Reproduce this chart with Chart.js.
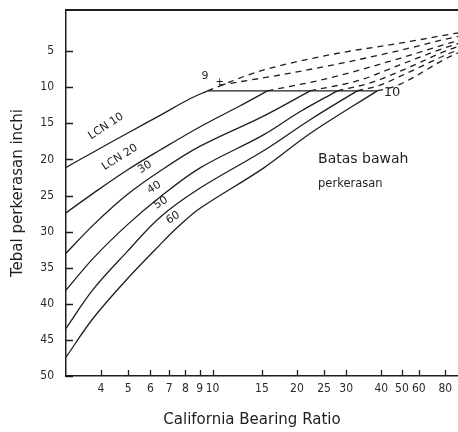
<!DOCTYPE html>
<html>
<head>
<meta charset="utf-8">
<script src="https://cdn.jsdelivr.net/npm/chart.js@4/dist/chart.umd.min.js"></script>
<style>
  html, body { margin: 0; padding: 0; background: #fff; overflow: hidden; }
  canvas { display: block; }
</style>
</head>
<body>
<canvas id="cbrChart" width="476" height="432"></canvas>
<script>
// ---- data ----
// thickness (inch) against CBR for each LCN curve, solid part
const cbrLcn10 = [3, 3.75, 4.95, 6.5, 8.3, 9.6];
const tLcn10   = [21.1, 19.0, 16.4, 13.9, 11.6, 10.5];
const cbrLcn20 = [3, 3.75, 4.95, 6.5, 9.0, 12.5, 15.7];
const tLcn20   = [27.4, 24.7, 21.5, 18.7, 15.5, 12.6, 10.5];
const cbrLcn30 = [3, 3.75, 4.95, 6.5, 9.0, 15.2, 22.3];
const tLcn30   = [33.0, 29.1, 24.9, 21.6, 18.2, 14.0, 10.5];
const cbrLcn40 = [3, 3.75, 4.95, 6.5, 9.0, 15.2, 20.5, 27.9];
const tLcn40   = [38.1, 33.7, 29.1, 25.2, 21.2, 16.6, 13.4, 10.5];
const cbrLcn50 = [3, 3.75, 4.95, 6.5, 9.0, 15.2, 22.3, 32.8];
const tLcn50   = [43.4, 38.0, 32.8, 28.0, 24.0, 18.8, 14.5, 10.5];
const cbrLcn60 = [3, 3.75, 4.95, 6.5, 7.6, 9.0, 15.2, 22.3, 38.7];
const tLcn60   = [47.4, 42.0, 36.6, 31.8, 29.2, 26.8, 21.2, 16.4, 10.5];

// dashed continuations above the lower limit line
const cbrDash1 = [9.6, 14.4, 26.3, 48.9, 90.6, 100];
const tDash1   = [10.5, 7.9, 5.5, 3.9, 2.5, 2.3];
const cbrDash2 = [10.6, 17.4, 28.6, 48.9, 90.6, 100];
const tDash2   = [9.7, 8.3, 6.7, 4.9, 3.0, 2.8];
const cbrDash3 = [15.7, 26.3, 48.9, 90.6, 100];
const tDash3   = [10.5, 8.7, 6.0, 3.6, 3.3];
const cbrDash4 = [22.3, 33.7, 48.9, 90.6, 100];
const tDash4   = [10.5, 9.0, 6.9, 4.0, 3.7];
const cbrDash5 = [27.9, 36.5, 48.9, 90.6, 100];
const tDash5   = [10.5, 9.4, 7.8, 4.4, 4.1];
const cbrDash6 = [32.8, 39.7, 48.9, 90.6, 100];
const tDash6   = [10.5, 9.7, 8.5, 4.9, 4.5];
const cbrDash7 = [38.7, 43.9, 48.9, 90.6, 100];
const tDash7   = [10.5, 10.1, 9.6, 5.3, 4.9];

// horizontal limit line
const cbrLimit = [9.6, 38.7];
const tLimit   = [10.5, 10.5];

// axis ticks
const xTicks = [4, 5, 6, 7, 8, 9, 10, 15, 20, 25, 30, 40, 50, 60, 80];
const yTicks = [5, 10, 15, 20, 25, 30, 35, 40, 45, 50];

// text on the plot: [cbr, thickness, text, angle(deg), size, align]
const notes = [
  [4.17, 15.4, 'LCN 10', -33, 11, 'center'],
  [4.67, 19.7, 'LCN 20', -32, 11, 'center'],
  [5.74, 21.1, '30', -32, 11, 'center'],
  [6.19, 23.9, '40', -32, 11, 'center'],
  [6.55, 26.0, '50', -32, 11, 'center'],
  [7.23, 28.1, '60', -32, 11, 'center'],
  [9.4, 8.45, '9', 0, 11, 'center'],
  [10.6, 9.3, '+', 0, 10, 'center'],
  [44.9, 10.8, '10', 0, 13, 'center'],
  [23.8, 20.0, 'Batas bawah', 0, 14, 'left'],
  [23.8, 23.4, 'perkerasan', 0, 11.5, 'left']
];

// CBR axis: logarithmic, but squeezed above 40 like the printed chart
const CBR_BREAK = 40;
const CBR_SQUEEZE = 0.76;

class CbrScale extends Chart.LogarithmicScale {
  warp(v) {
    const l = Math.log10(v), b = Math.log10(CBR_BREAK);
    return l <= b ? l : b + CBR_SQUEEZE * (l - b);
  }
  getPixelForValue(v) {
    if (v === undefined || v === null || isNaN(v)) return NaN;
    const a = this.warp(this.min), z = this.warp(this.max);
    return this.getPixelForDecimal((this.warp(v) - a) / (z - a));
  }
  getValueForPixel(p) {
    const a = this.warp(this.min), z = this.warp(this.max);
    const w = a + this.getDecimalForPixel(p) * (z - a);
    const b = Math.log10(CBR_BREAK);
    return Math.pow(10, w <= b ? w : b + (w - b) / CBR_SQUEEZE);
  }
}
CbrScale.id = 'cbr';
CbrScale.defaults = Chart.LogarithmicScale.defaults;
Chart.register(CbrScale);

const ink = '#1e1e1e';
const tickFont = { family: '"DejaVu Sans Condensed", "Liberation Sans Narrow", sans-serif', size: 12 };
const titleFont = { family: '"DejaVu Sans", sans-serif', size: 15 };

function pts(xs, ys) {
  return xs.map((x, i) => ({ x: x, y: ys[i] }));
}

function solid(xs, ys) {
  return { data: pts(xs, ys), borderColor: ink, borderWidth: 1.3, pointRadius: 0,
           showLine: true, tension: 0.35 };
}
function dashed(xs, ys) {
  return { data: pts(xs, ys), borderColor: ink, borderWidth: 1.3, pointRadius: 0,
           showLine: true, borderDash: [6, 5], cubicInterpolationMode: 'monotone' };
}

// inward tick marks, top frame line, x title and the notes
const extras = {
  id: 'extras',
  afterDraw(chart) {
    const { ctx, chartArea, scales: { x, y } } = chart;
    ctx.save();
    ctx.strokeStyle = ink;
    ctx.lineWidth = 1.3;
    ctx.beginPath();
    x.ticks.forEach((t, i) => {
      const px = Math.round(x.getPixelForTick(i)) + 0.5;
      ctx.moveTo(px, chartArea.bottom);
      ctx.lineTo(px, chartArea.bottom - 6);
    });
    y.ticks.forEach((t, i) => {
      const py = Math.round(y.getPixelForTick(i)) + 0.5;
      ctx.moveTo(chartArea.left, py);
      ctx.lineTo(chartArea.left + 7, py);
    });
    ctx.stroke();

    ctx.lineWidth = 2.2;
    ctx.beginPath();
    ctx.moveTo(chartArea.left, chartArea.top);
    ctx.lineTo(chartArea.right, chartArea.top);
    ctx.stroke();

    ctx.fillStyle = ink;
    ctx.textBaseline = 'middle';
    ctx.textAlign = 'center';
    ctx.font = titleFont.size + 'px ' + titleFont.family;
    ctx.fillText('California Bearing Ratio', chartArea.left + 186, x.bottom - 12);

    notes.forEach(n => {
      const [cbr, t, text, ang, size, align] = n;
      ctx.save();
      ctx.translate(x.getPixelForValue(cbr), y.getPixelForValue(t));
      ctx.rotate(ang * Math.PI / 180);
      ctx.font = size + 'px "DejaVu Sans", sans-serif';
      ctx.textAlign = align;
      ctx.fillText(text, 0, 0);
      ctx.restore();
    });
    ctx.restore();
  }
};

new Chart(document.getElementById('cbrChart'), {
  type: 'scatter',
  data: {
    datasets: [
      solid(cbrLcn10, tLcn10),
      solid(cbrLcn20, tLcn20),
      solid(cbrLcn30, tLcn30),
      solid(cbrLcn40, tLcn40),
      solid(cbrLcn50, tLcn50),
      solid(cbrLcn60, tLcn60),
      dashed(cbrDash1, tDash1),
      dashed(cbrDash2, tDash2),
      dashed(cbrDash3, tDash3),
      dashed(cbrDash4, tDash4),
      dashed(cbrDash5, tDash5),
      dashed(cbrDash6, tDash6),
      dashed(cbrDash7, tDash7),
      { data: pts(cbrLimit, tLimit), borderColor: ink, borderWidth: 1.2, pointRadius: 0, showLine: true }
    ]
  },
  options: {
    responsive: false,
    animation: false,
    layout: { padding: { top: 10, right: 10, left: 0, bottom: 0 } },
    plugins: { legend: { display: false }, tooltip: { enabled: false } },
    scales: {
      x: {
        type: 'cbr',
        min: 3,
        max: 100,
        afterBuildTicks: axis => { axis.ticks = xTicks.map(v => ({ value: v })); },
        afterFit: axis => { axis.height = 56; axis.paddingLeft = 0; axis.paddingRight = 0; },
        grid: { display: false, drawTicks: false },
        border: { display: true, color: ink, width: 1.5 },
        ticks: { autoSkip: false, maxRotation: 0, minRotation: 0, padding: 6,
                 color: '#2a2a2a', font: tickFont, callback: v => String(v) },
        title: { display: false }
      },
      y: {
        type: 'linear',
        reverse: true,
        min: -0.7,
        max: 50,
        afterBuildTicks: axis => { axis.ticks = yTicks.map(v => ({ value: v })); },
        afterFit: axis => { axis.width = 66; axis.paddingTop = 0; axis.paddingBottom = 0; },
        grid: { display: false, drawTicks: false },
        border: { display: true, color: ink, width: 1.5 },
        ticks: { padding: 12, color: '#2a2a2a', font: tickFont },
        title: { display: true, text: 'Tebal perkerasan inchi', color: ink,
                 font: titleFont, padding: { top: 9, bottom: 0 } }
      }
    }
  },
  plugins: [extras]
});
</script>
</body>
</html>
